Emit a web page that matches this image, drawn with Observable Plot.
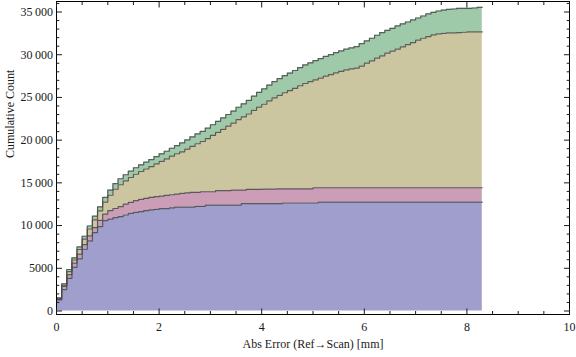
<!DOCTYPE html>
<html><head><meta charset="utf-8">
<script src="https://cdn.jsdelivr.net/npm/d3@7"></script>
<script src="https://cdn.jsdelivr.net/npm/@observablehq/plot@0.6"></script>
<style>body{margin:0;background:#fff;}</style>
</head><body><div id="chart"></div>
<script>
// Bin width of the cumulative histogram (mm)
const binWidth = 0.1;

// Series names (stack order, bottom to top) and fill colours
const seriesNames = ["Series 1", "Series 2", "Series 3", "Series 4"];
const seriesColors = ["#a09ecd", "#cb9db7", "#cbc6a0", "#9ecaaa"];

// Cumulative counts per 0.1 mm bin (bins 0.0–8.3 mm), one array per layer
const series1 = [1300,2510,3810,5100,6100,7230,8200,9180,9880,10580,
  10750,10920,11050,11240,11430,11550,11630,11750,11830,11900,
  11980,11980,12060,12170,12170,12170,12170,12250,12250,12400,
  12400,12400,12400,12400,12400,12400,12560,12560,12560,12560,
  12560,12560,12560,12560,12640,12640,12640,12640,12640,12640,
  12640,12750,12750,12750,12750,12750,12750,12750,12750,12750,
  12750,12750,12750,12750,12750,12750,12750,12750,12750,12750,
  12750,12750,12750,12750,12750,12750,12750,12750,12750,12750,
  12750,12750,12750];
const series2 = [100,370,440,500,550,550,590,590,740,770,
  1000,1080,1160,1280,1290,1360,1440,1430,1470,1480,
  1470,1550,1550,1520,1600,1650,1710,1630,1710,1560,
  1560,1680,1680,1680,1760,1760,1600,1670,1670,1670,
  1710,1710,1710,1740,1660,1660,1660,1660,1660,1660,
  1790,1680,1680,1680,1680,1680,1680,1680,1680,1680,
  1680,1680,1680,1680,1680,1680,1680,1680,1680,1680,
  1680,1680,1680,1680,1680,1680,1680,1680,1680,1680,
  1680,1680,1680];
const series3 = [50,150,360,370,550,640,810,900,1110,1400,
  1800,2250,2570,2710,2910,3100,3260,3440,3610,3850,
  4070,4270,4510,4720,4860,5130,5380,5700,5880,6220,
  6590,6830,7190,7550,7830,8240,8570,8830,9260,9640,
  9930,10330,10680,10950,11250,11500,11760,12070,12330,12540,
  12620,12840,13060,13230,13450,13620,13790,13910,14000,14240,
  14580,14860,15170,15440,15750,15990,16220,16490,16760,16990,
  17270,17500,17690,17890,18010,18080,18120,18120,18160,18200,
  18240,18240,18240];
const series4 = [100,160,250,250,300,330,350,430,470,550,
  600,650,700,720,740,760,780,800,820,850,
  880,900,930,960,1050,1080,1120,1150,1180,1220,
  1250,1290,1330,1370,1410,1450,1520,1590,1660,1730,
  1800,1850,1900,1950,2000,2050,2090,2130,2170,2210,
  2250,2280,2310,2340,2370,2400,2430,2460,2520,2630,
  2610,2640,2680,2720,2680,2670,2720,2680,2640,2650,
  2600,2600,2650,2640,2680,2720,2760,2800,2840,2800,
  2760,2800,2880];

// Axis ticks and labels
const xMajor = [0, 2, 4, 6, 8, 10];
const xTickLabels = ["0", "2", "4", "6", "8", "10"];
const xMinor = [0.5,1,1.5,2.5,3,3.5,4.5,5,5.5,6.5,7,7.5,8.5,9,9.5];
const yMajor = [0, 5000, 10000, 15000, 20000, 25000, 30000, 35000];
const yTickLabels = ["0", "5000", "10\u2009000", "15\u2009000", "20\u2009000", "25\u2009000", "30\u2009000", "35\u2009000"];
const yMinor = d3.range(1000, 37000, 1000).filter(v => v % 5000 !== 0);
const xLabel = "Abs Error (Ref\u2192Scan) [mm]";
const yLabel = "Cumulative Count";

// Build long-format table for the library
const allSeries = [series1, series2, series3, series4];
const nEdges = series1.length + 1;
const rows = [];
allSeries.forEach((vals, s) => {
  for (let i = 0; i < nEdges; i++) {
    rows.push({x: Math.round(i * binWidth * 10) / 10, series: seriesNames[s], value: vals[Math.min(i, vals.length - 1)]});
  }
});

const ink = "#1a1a1a";
const chart = Plot.plot({
  width: 576,
  height: 357,
  marginLeft: 56,
  marginRight: 7,
  marginTop: 1,
  marginBottom: 43,
  style: {fontFamily: "'Liberation Serif', 'DejaVu Serif', serif", fontSize: "12px", color: ink, background: "#fff"},
  x: {domain: [0, 10]},
  y: {domain: [-410, 36230]},
  color: {domain: seriesNames, range: seriesColors},
  marks: [
    Plot.areaY(rows, {x: "x", y: "value", z: "series", fill: "series", order: seriesNames, curve: "step-after"}),
    Plot.lineY(rows, Plot.stackY2({x: "x", y: "value", z: "series", order: seriesNames, curve: "step-after", stroke: "#4a4a4a", strokeWidth: 1.2, strokeOpacity: 0.85})),
    Plot.frame({stroke: "#000", strokeWidth: 1}),
    // inward tick marks on all four sides
    Plot.axisX(xMajor, {anchor: "bottom", tickSize: -5.5, tickFormat: () => "", label: null}),
    Plot.axisX(xMinor, {anchor: "bottom", tickSize: -3, tickFormat: () => "", label: null}),
    Plot.axisX(xMajor, {anchor: "top", tickSize: -5.5, tickFormat: () => "", label: null}),
    Plot.axisX(xMinor, {anchor: "top", tickSize: -3, tickFormat: () => "", label: null}),
    Plot.axisY(yMajor, {anchor: "left", tickSize: -6, tickFormat: () => "", label: null}),
    Plot.axisY(yMinor, {anchor: "left", tickSize: -3.3, tickFormat: () => "", label: null}),
    Plot.axisY(yMajor, {anchor: "right", tickSize: -6, tickFormat: () => "", label: null}),
    Plot.axisY(yMinor, {anchor: "right", tickSize: -3.3, tickFormat: () => "", label: null}),
    // tick labels
    Plot.axisX(xMajor, {anchor: "bottom", tickSize: 0, tickPadding: 8, tickFormat: d => xTickLabels[xMajor.indexOf(d)], label: null}),
    Plot.axisY(yMajor, {anchor: "left", tickSize: 0, tickPadding: 3.5, tickFormat: d => yTickLabels[yMajor.indexOf(d)], label: null}),
    // axis titles
    Plot.text([xLabel], {frameAnchor: "bottom", dy: 33, text: d => d, fill: ink}),
    Plot.text([yLabel], {frameAnchor: "left", dx: -46, rotate: -90, text: d => d, fill: ink})
  ]
});
document.getElementById("chart").appendChild(chart);
</script>
</body></html>
